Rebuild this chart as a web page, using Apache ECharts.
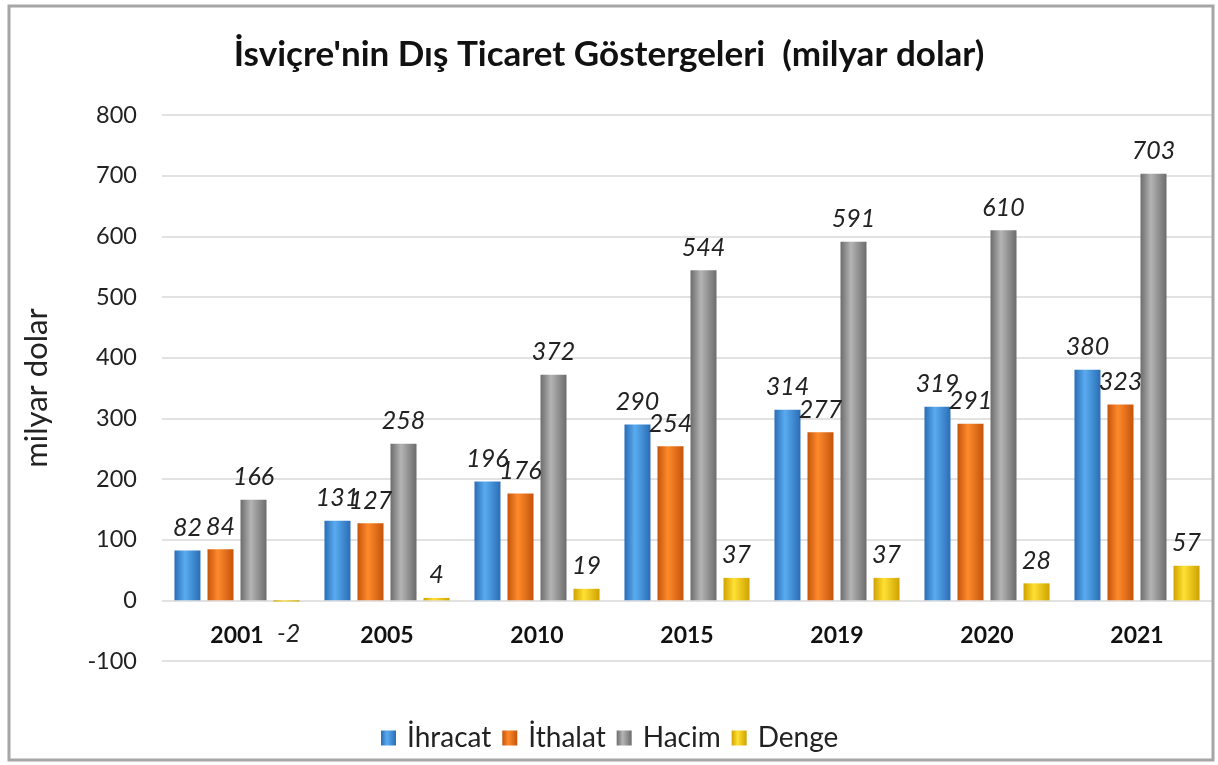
<!DOCTYPE html>
<html>
<head>
<meta charset="utf-8">
<script src="https://cdn.jsdelivr.net/npm/echarts@6/dist/echarts.min.js"></script>
<style>
html,body{margin:0;padding:0;background:#fff;}
#c{width:1218px;height:765px;}
</style>
</head>
<body>
<div id="c"></div>
<script>
const categories = ['2001','2005','2010','2015','2019','2020','2021'];
const ihracat = [82,131,196,290,314,319,380];
const ithalat = [84,127,176,254,277,291,323];
const hacim = [166,258,372,544,591,610,703];
const denge = [-2,4,19,37,37,28,57];
const seriesNames = ['İhracat','İthalat','Hacim','Denge'];
const yTicks = {min:-100, max:800, interval:100};

const FONT = 'Lato';
const GRID = {left:162, right:6, top:115, bottom:104};
const CH = 765;
// distance from bottom of plot to the zero line (pixels), derived from axis range
const zeroOffset = (CH - GRID.top - GRID.bottom) * (0 - yTicks.min) / (yTicks.max - yTicks.min);

function grad(dark, light){
  return new echarts.graphic.LinearGradient(0,0,1,0,[
    {offset:0,color:dark},{offset:0.4,color:light},{offset:1,color:dark}
  ]);
}
const colors = [
  grad('#2a6db5','#5aabf0'),
  grad('#c4540a','#ff8a2c'),
  grad('#6c6c6c','#b4b4b4'),
  grad('#cfa200','#ffe033')
];
const labelStyle = {show:true, position:'top', distance:10, fontFamily:FONT, fontStyle:'italic', fontSize:25, color:'#222'};

function mkSeries(name, data, color){
  return {
    name: name, type:'bar', barWidth:26, barGap:'27%',
    itemStyle:{color:color},
    label: labelStyle,
    data: data.map(v => v < 0 ? {value:v, label:{position:'bottom', distance:20, offset:[2,0]}} : v)
  };
}

const chart = echarts.init(document.getElementById('c'), null, {renderer:'canvas'});
chart.setOption({
  backgroundColor:'#fff',
  animation:false,
  title:{text:"İsviçre'nin Dış Ticaret Göstergeleri  (milyar dolar)", left:'center', top:32,
    textStyle:{fontFamily:FONT, fontWeight:'bold', fontSize:35, color:'#111'}},
  graphic:[{type:'rect', shape:{x:9,y:6,width:1204,height:754}, style:{fill:'none', stroke:'#a6a6a6', lineWidth:3}, z:100}],
  legend:{bottom:8, left:376, icon:'rect', itemWidth:15, itemHeight:15, itemGap:11,
    textStyle:{fontFamily:FONT, fontSize:28, color:'#222', padding:[0,0,0,6]}, data:seriesNames},
  grid:GRID,
  xAxis:{type:'category', data:categories, offset:-zeroOffset,
    axisLine:{show:false, onZero:false}, axisTick:{show:false},
    axisLabel:{margin:24, fontFamily:FONT, fontWeight:'bold', fontSize:23, color:'#111'}},
  yAxis:{type:'value', min:yTicks.min, max:yTicks.max, interval:yTicks.interval,
    name:'milyar dolar', nameLocation:'middle', nameRotate:90, nameGap:110,
    nameTextStyle:{fontFamily:FONT, fontSize:31, color:'#222'},
    axisLine:{show:false}, axisTick:{show:false},
    axisLabel:{margin:25, fontFamily:FONT, fontSize:23.5, color:'#222'},
    splitLine:{lineStyle:{color:'#d9d9d9', width:1.5}}},
  series:[
    mkSeries(seriesNames[0], ihracat, colors[0]),
    mkSeries(seriesNames[1], ithalat, colors[1]),
    mkSeries(seriesNames[2], hacim, colors[2]),
    mkSeries(seriesNames[3], denge, colors[3])
  ]
});
</script>
</body>
</html>
